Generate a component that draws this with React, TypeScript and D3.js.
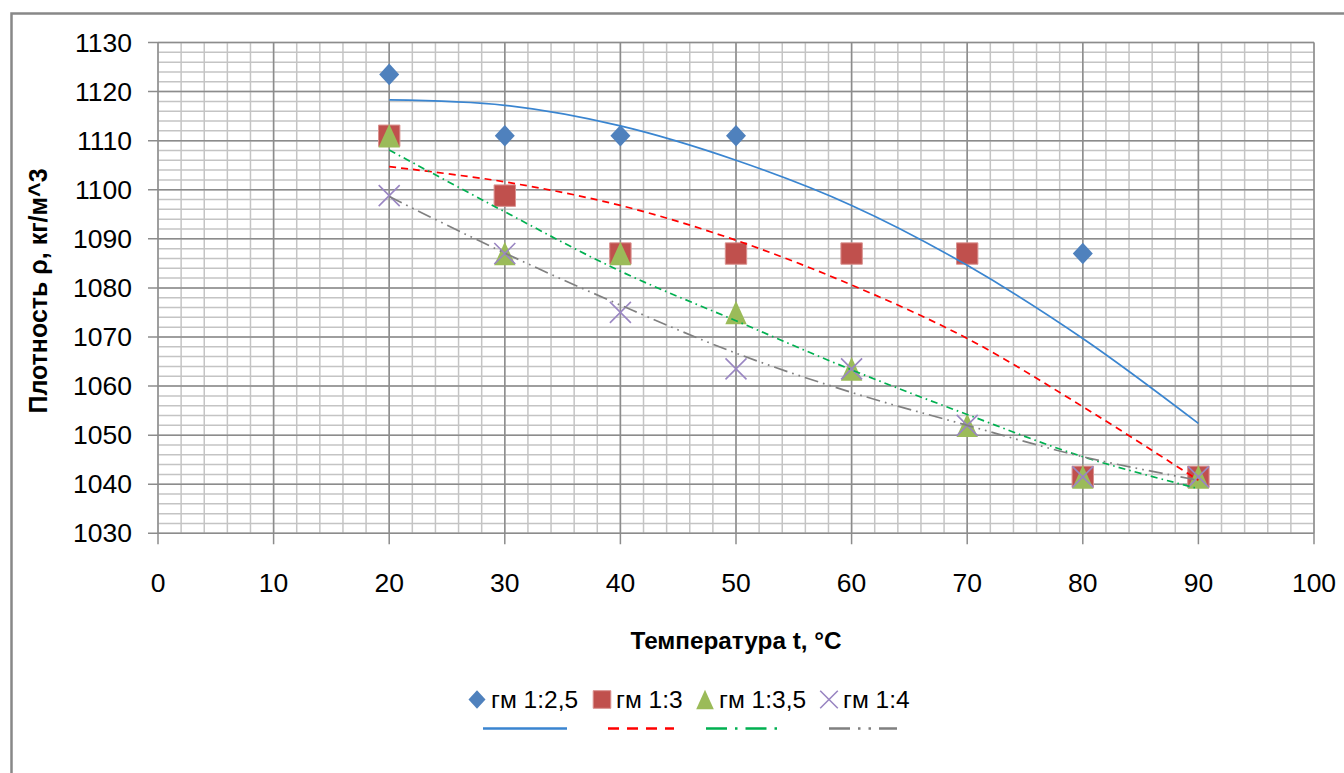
import React from 'react';
import * as d3 from 'd3';

// temperatures, °C
const temps = [20, 30, 40, 50, 60, 70, 80, 90];

// measured density, kg/m^3
const gm25 = [1123.5, 1111, 1111, 1111, 1087, 1087, 1087, 1041.5];
const gm3 = [1111, 1098.8, 1087, 1087, 1087, 1087, 1041.5, 1041.5];
const gm35 = [1111, 1087, 1087, 1075, 1063.5, 1052, 1041.5, 1041.5];
const gm4 = [1098.8, 1087, 1075, 1063.5, 1063.5, 1052, 1041.5, 1041.5];

// trend lines
const trend25 = [1118.3, 1117.2, 1113.0, 1106.0, 1096.8, 1084.6, 1069.7, 1052.4];
const trend3 = [1104.7, 1101.6, 1096.8, 1089.7, 1080.6, 1069.7, 1055.8, 1040.8];
const trend35 = [1108.1, 1095.5, 1083.4, 1073.3, 1063.3, 1054.2, 1045.6, 1039.1];
const trend4 = [1098.6, 1087.1, 1076.5, 1066.7, 1058.7, 1052.0, 1045.6, 1040.8];

const seriesNames = ['гм 1:2,5', 'гм 1:3', 'гм 1:3,5', 'гм 1:4'];
const xTickValues = [0, 10, 20, 30, 40, 50, 60, 70, 80, 90, 100];
const yTickValues = [1030, 1040, 1050, 1060, 1070, 1080, 1090, 1100, 1110, 1120, 1130];

const W = 1344;
const H = 773;
const FONT = '"Liberation Sans", Arial, sans-serif';

const x = d3.scaleLinear().domain([0, 100]).range([158, 1314]);
const y = d3.scaleLinear().domain([1030, 1130]).range([533.3, 42.5]);

const diamond = (cx: number, cy: number, r: number) =>
  `M${cx},${cy - r * 1.08}L${cx + r},${cy}L${cx},${cy + r * 1.08}L${cx - r},${cy}Z`;
const square = (cx: number, cy: number, r: number) =>
  `M${cx - r},${cy - r}h${2 * r}v${2 * r}h${-2 * r}Z`;
const triangle = (cx: number, cy: number, r: number) =>
  `M${cx},${cy - r * 1.1}L${cx + r},${cy + r * 1.1}L${cx - r},${cy + r * 1.1}Z`;
const cross = (cx: number, cy: number, r: number) =>
  `M${cx - r},${cy - r}L${cx + r},${cy + r}M${cx + r},${cy - r}L${cx - r},${cy + r}`;

const markerStyles = [
  { shape: diamond, fill: '#4F81BD', stroke: 'none' },
  { shape: square, fill: '#C0504D', stroke: '#D9918F' },
  { shape: triangle, fill: '#9BBB59', stroke: 'none' },
  { shape: cross, fill: 'none', stroke: '#9A86C2' },
];

const trendStyles = [
  { color: '#3A85D0', dash: null, legendDash: null },
  { color: '#FF0000', dash: '7,5', legendDash: '11,8' },
  { color: '#00B050', dash: '7,4,1.6,4', legendDash: '21,8,2.5,8' },
  { color: '#808080', dash: '14,5,1.7,5,1.7,5', legendDash: '21,8,2.5,8,2.5,8' },
];

const values = [gm25, gm3, gm35, gm4];
const trends = [trend25, trend3, trend35, trend4];

const line = d3
  .line<number>()
  .x((_, i) => x(temps[i]))
  .y(d => y(d))
  .curve(d3.curveCatmullRom);

export default function App() {
  const minorX = d3.range(0, 101, 2);
  const minorY = d3.range(1030, 1131, 2);

  const legendMarks = [477, 602, 705, 829];
  const legendLines = [
    [483, 567],
    [608, 674],
    [706, 779],
    [829, 897],
  ];

  return (
    <svg
      width={W}
      height={H}
      style={{ position: 'absolute', left: 0, top: 0, background: '#fff' }}
      fontFamily={FONT}
    >
      <rect x={11.5} y={13.5} width={1400} height={800} fill="#fff" stroke="#888" strokeWidth={2.5} />

      {/* minor grid */}
      <g stroke="#C4C4C4" strokeWidth={1.5}>
        {minorX.map(v => (
          <line key={'mx' + v} x1={x(v)} x2={x(v)} y1={y(1030)} y2={y(1130)} />
        ))}
        {minorY.map(v => (
          <line key={'my' + v} x1={x(0)} x2={x(100)} y1={y(v)} y2={y(v)} />
        ))}
      </g>
      {/* major grid + ticks */}
      <g stroke="#8C8C8C" strokeWidth={1.5}>
        {xTickValues.map(v => (
          <line key={'Mx' + v} x1={x(v)} x2={x(v)} y1={y(1130)} y2={y(1030) + 11} />
        ))}
        {yTickValues.map(v => (
          <line key={'My' + v} x1={x(0) - 10} x2={x(100)} y1={y(v)} y2={y(v)} />
        ))}
      </g>

      {/* tick labels */}
      <g fontSize={26.5} fill="#000">
        {yTickValues.map(v => (
          <text key={'yl' + v} x={132} y={y(v)} textAnchor="end" dominantBaseline="central">
            {v}
          </text>
        ))}
        {xTickValues.map(v => (
          <text key={'xl' + v} x={x(v)} y={591.5} textAnchor="middle">
            {v}
          </text>
        ))}
      </g>

      {/* axis titles */}
      <text x={736} y={649} textAnchor="middle" fontWeight="bold" fontSize={24.3}>
        Температура t, °C
      </text>
      <text
        transform="translate(47,291) rotate(-90)"
        textAnchor="middle"
        fontWeight="bold"
        fontSize={25}
      >
        Плотность ρ, кг/м^3
      </text>

      {/* markers */}
      {values.map((vals, s) => (
        <g key={'s' + s}>
          {vals.map((v, i) => (
            <path
              key={i}
              d={markerStyles[s].shape(x(temps[i]), y(v), s === 3 ? 10.5 : s === 0 ? 10 : 10.7)}
              fill={markerStyles[s].fill}
              stroke={markerStyles[s].stroke}
              strokeWidth={s === 3 ? 1.6 : 1}
            />
          ))}
        </g>
      ))}

      {/* trend lines */}
      {trends.map((t, s) => (
        <path
          key={'t' + s}
          d={line(t) || ''}
          fill="none"
          stroke={trendStyles[s].color}
          strokeWidth={1.7}
          strokeDasharray={trendStyles[s].dash || undefined}
        />
      ))}

      {/* legend */}
      <g fontSize={24.5}>
        {seriesNames.map((name, s) => (
          <g key={'lg' + s}>
            <path
              d={markerStyles[s].shape(legendMarks[s], 699.5, s === 0 ? 8.5 : 8.8)}
              fill={markerStyles[s].fill}
              stroke={markerStyles[s].stroke}
              strokeWidth={s === 3 ? 1.6 : 1}
            />
            <text x={legendMarks[s] + 14} y={707.5}>
              {name}
            </text>
            <line
              x1={legendLines[s][0]}
              x2={legendLines[s][1]}
              y1={728.5}
              y2={728.5}
              stroke={trendStyles[s].color}
              strokeWidth={2.7}
              strokeDasharray={trendStyles[s].legendDash || undefined}
            />
          </g>
        ))}
      </g>
    </svg>
  );
}
